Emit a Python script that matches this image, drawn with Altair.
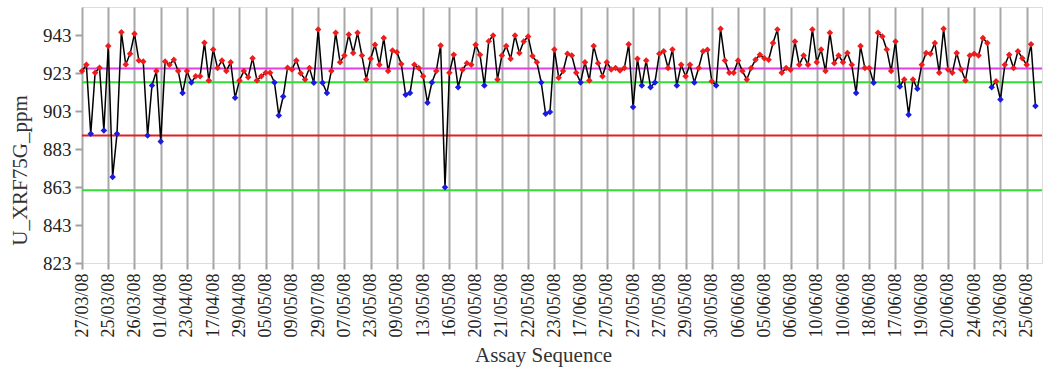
import altair as alt
import pandas as pd

values = [
    924.2, 927.5, 891.1, 923.3, 926.0, 892.9, 937.4, 868.3, 891.1, 944.7,
    927.7, 933.3, 943.9, 929.8, 929.3, 890.2, 916.6, 924.2, 887.1, 929.3,
    927.5, 930.2, 924.2, 912.6, 924.2, 918.2, 921.5, 921.5, 939.1, 919.3,
    935.6, 925.8, 929.8, 924.2, 928.9, 910.1, 919.3, 924.2, 921.0, 931.0,
    919.3, 921.5, 923.3, 923.3, 918.2, 900.8, 910.8, 926.0, 925.1, 929.8,
    923.1, 919.8, 925.8, 918.0, 946.2, 918.0, 912.6, 924.2, 944.4, 928.9,
    932.4, 943.5, 933.8, 944.4, 932.4, 919.8, 930.7, 938.1, 927.5, 941.6,
    924.2, 935.1, 934.2, 928.0, 911.7, 912.6, 927.5, 925.8, 921.5, 907.5,
    918.2, 924.2, 937.7, 863.0, 923.3, 932.8, 915.7, 924.9, 928.4, 927.5,
    938.1, 932.8, 916.6, 940.0, 943.0, 919.8, 932.4, 937.4, 930.7, 943.0,
    933.8, 939.8, 942.5, 932.1, 928.9, 918.2, 901.7, 902.6, 935.6, 920.7,
    924.2, 933.3, 932.4, 923.3, 918.2, 928.9, 919.3, 937.4, 928.4, 921.5,
    928.9, 925.1, 925.8, 924.5, 925.8, 938.3, 905.2, 930.7, 916.6, 929.8,
    915.7, 918.2, 933.3, 934.7, 925.8, 935.6, 916.6, 927.5, 921.5, 927.5,
    918.2, 925.8, 934.7, 935.4, 918.9, 916.6, 946.5, 929.8, 923.3, 923.3,
    929.8, 924.2, 919.8, 925.8, 930.2, 932.8, 931.0, 930.2, 939.0, 946.2,
    923.3, 925.8, 924.9, 939.8, 927.5, 932.4, 927.5, 946.2, 928.9, 935.6,
    924.2, 944.4, 928.4, 932.4, 928.9, 933.8, 927.5, 912.6, 937.4, 925.8,
    925.8, 918.0, 944.4, 942.5, 935.6, 924.2, 939.8, 916.1, 919.8, 901.2,
    919.8, 914.9, 927.5, 933.8, 933.3, 939.0, 923.3, 946.5, 925.1, 923.3,
    933.8, 925.1, 919.3, 932.4, 933.3, 932.4, 941.6, 939.0, 915.7, 918.9,
    909.2, 927.5, 932.8, 925.8, 934.7, 931.0, 927.5, 938.3, 905.8,
]

tick_labels = [
    "27/03/08", "25/03/08", "26/03/08", "01/04/08", "23/04/08", "17/04/08",
    "29/04/08", "05/05/08", "09/05/08", "29/07/08", "07/05/08", "23/05/08",
    "09/05/08", "13/05/08", "16/05/08", "20/05/08", "21/05/08", "22/05/08",
    "23/05/08", "17/06/08", "27/05/08", "27/05/08", "27/05/08", "29/05/08",
    "30/05/08", "06/06/08", "05/06/08", "06/06/08", "10/06/08", "10/06/08",
    "18/06/08", "17/06/08", "19/06/08", "20/06/08", "24/06/08", "23/06/08",
    "25/06/08",
]
label_step = 6

ref_values = [925.6, 918.3, 890.3, 861.3]
ref_colors = ["#e040e0", "#33dd33", "#e02020", "#33dd33"]

y_ticks = [823, 843, 863, 883, 903, 923, 943]

df = pd.DataFrame({"idx": list(range(len(values))), "v": values})
ref_df = pd.DataFrame({"y": ref_values, "c": ref_colors})

tick_positions = [i * label_step for i in range(len(tick_labels))]
label_array = "[" + ",".join("'" + s + "'" for s in tick_labels) + "]"

FONT = "Liberation Serif"

x_scale = alt.Scale(domain=[0, 219.5], nice=False, zero=False)
x_axis = alt.Axis(
    values=tick_positions,
    labelExpr=label_array + "[round(datum.value / 6)]",
    labelAngle=270,
    labelFont=FONT,
    labelFontSize=18,
    labelColor="#222222",
    labelPadding=4,
    labelOverlap=False,
    labelFlush=False,
    labelBound=False,
    grid=True,
    gridColor="#a8a8a8",
    gridWidth=2,
    tickColor="#a0a0a0",
    tickWidth=2,
    tickSize=6,
    domain=False,
    title="Assay Sequence",
    titleFont=FONT,
    titleFontSize=21,
    titleFontWeight="normal",
    titleColor="#333333",
    titleX=461,
    titleY=92,
    titleBaseline="middle",
    titleAlign="center",
)

y_scale = alt.Scale(domain=[823, 958], nice=False, zero=False)
y_axis = alt.Axis(
    values=y_ticks,
    labelFont=FONT,
    labelFontSize=19,
    labelColor="#222222",
    labelPadding=4,
    grid=False,
    tickColor="#a0a0a0",
    tickWidth=2,
    tickSize=7,
    domain=False,
    title="U_XRF75G_ppm",
    titleFont=FONT,
    titleFontSize=21,
    titleFontWeight="normal",
    titleColor="#333333",
    titleAngle=270,
    titleX=-62,
    titleY=163,
    titleAlign="center",
    titleBaseline="middle",
)

x_enc = alt.X("idx:Q", scale=x_scale, axis=x_axis)
y_enc = alt.Y("v:Q", scale=y_scale, axis=y_axis)

base = alt.Chart(df)

rules = alt.Chart(ref_df).mark_rule(strokeWidth=2).encode(
    y=alt.Y("y:Q", scale=y_scale, axis=y_axis),
    color=alt.Color("c:N", scale=None),
)

line = base.mark_line(color="black", strokeWidth=1.5).encode(x=x_enc, y=y_enc)

points = base.mark_point(shape="diamond", filled=True, size=42, opacity=1).encode(
    x=x_enc,
    y=y_enc,
    color=alt.condition(alt.datum.v < 918.6, alt.value("#1a1ae0"), alt.value("#ee1c1c")),
)

chart = alt.layer(rules, line, points).properties(
    width=960,
    height=256,
    autosize=alt.AutoSizeParams(type="none"),
    padding={"left": 82, "top": 7, "right": 5, "bottom": 106},
).configure_view(
    stroke="#a0a0a0",
    strokeWidth=2,
).configure(background="white")

chart.save("out.html", embed_options={"renderer": "svg", "actions": False})
